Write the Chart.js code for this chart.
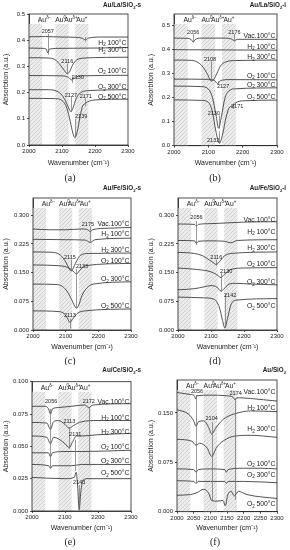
<!DOCTYPE html>
<html>
<head>
<meta charset="utf-8">
<script src="https://cdn.jsdelivr.net/npm/chart.js@4.4.1/dist/chart.umd.min.js"></script>
<style>
  html, body { margin: 0; padding: 0; background: #fff; }
  #fig { position: relative; width: 290px; height: 550px; overflow: hidden; }
  #fig canvas { position: absolute; }
</style>
</head>
<body>
<div id="fig"></div>
<script>
// ---- axes ----
const xTicks = [2000, 2100, 2200, 2300];
const xTicksF = [2000, 2050, 2100, 2150, 2200, 2250, 2300];
const yTicksAB = [0, 0.1, 0.2, 0.3, 0.4, 0.5];
const yLabelsAB = ['0.0', '0.1', '0.2', '0.3', '0.4', '0.5'];
const yTicksCD = [0, 0.075, 0.15, 0.225, 0.3];
const yLabelsCD = ['0.000', '0.075', '0.150', '0.225', '0.300'];
const yTicksE = [0, 0.025, 0.05, 0.075, 0.1];
const yLabelsE = ['0.000', '0.025', '0.050', '0.075', '0.100'];
const yTicksF = [0, 0.075, 0.15];
const yLabelsF = ['0.000', '0.075', '0.150'];

// hatched regions and their labels (wavenumber)
const bands = [[2000, 2040], [2080, 2120], [2140, 2180]];
const auLabels = ['Au^{δ−}', 'Au^{0}', 'Au^{δ+}', 'Au^{+}'];
const auPos = [2047, 2096, 2127, 2160];

// ---- (a) Au/La/SiO2-s : [wavenumber, absorbance] ----
const aTop    = [[2000,.413],[2050,.414],[2100,.412],[2140,.411],[2160,.408],[2171,.401],[2180,.408],[2220,.412],[2300,.412]];
const aH2_100 = [[2000,.370],[2040,.369],[2052,.366],[2057,.352],[2062,.366],[2100,.369],[2200,.370],[2300,.372]];
const aH2_300 = [[2000,.333],[2060,.332],[2080,.325],[2095,.305],[2108,.283],[2116,.272],[2123,.280],[2132,.305],[2145,.325],[2170,.332],[2300,.335]];
const aO2_100 = [[2000,.265],[2100,.264],[2120,.258],[2130,.248],[2140,.258],[2160,.264],[2300,.266]];
const aO2_300 = [[2000,.211],[2060,.211],[2085,.205],[2100,.190],[2112,.165],[2120,.142],[2127,.127],[2133,.140],[2142,.175],[2155,.198],[2175,.207],[2300,.211]];
const aO2_500 = [[2000,.178],[2080,.177],[2100,.170],[2115,.140],[2125,.090],[2133,.045],[2139,.028],[2146,.050],[2155,.110],[2163,.150],[2171,.158],[2178,.165],[2200,.172],[2300,.175]];

// ---- (b) Au/La/SiO2-i ----
const bVac    = [[2000,.446],[2040,.445],[2050,.440],[2056,.430],[2062,.440],[2080,.446],[2150,.446],[2168,.442],[2176,.435],[2184,.441],[2300,.441]];
const bH2_100 = [[2000,.398],[2150,.397],[2300,.396]];
const bH2_300 = [[2000,.355],[2050,.354],[2070,.345],[2085,.325],[2098,.295],[2108,.268],[2116,.275],[2125,.300],[2135,.330],[2150,.347],[2180,.353],[2300,.355]];
const bO2_100 = [[2000,.276],[2100,.275],[2118,.270],[2127,.258],[2136,.270],[2160,.274],[2300,.273]];
const bO2_300 = [[2000,.247],[2080,.245],[2100,.235],[2112,.200],[2122,.130],[2130,.072],[2138,.120],[2148,.195],[2160,.228],[2180,.236],[2300,.240]];
const bO2_500 = [[2000,.190],[2080,.188],[2100,.180],[2112,.140],[2122,.060],[2132,.010],[2142,.050],[2152,.120],[2162,.160],[2171,.165],[2180,.178],[2200,.186],[2300,.189]];

// ---- (c) Au/Fe/SiO2-s ----
const cVac    = [[2000,.264],[2050,.262],[2100,.262],[2150,.264],[2168,.262],[2175,.257],[2182,.262],[2230,.266],[2300,.268]];
const cH2_100 = [[2000,.237],[2100,.236],[2160,.235],[2175,.229],[2190,.236],[2300,.240]];
const cH2_300 = [[2000,.204],[2060,.203],[2080,.198],[2095,.185],[2108,.165],[2115,.155],[2122,.160],[2132,.178],[2145,.195],[2170,.200],[2300,.201]];
const cO2_100 = [[2000,.170],[2080,.168],[2110,.162],[2125,.152],[2133,.146],[2142,.155],[2160,.168],[2300,.174]];
const cO2_300 = [[2000,.120],[2070,.119],[2090,.114],[2105,.100],[2118,.080],[2128,.062],[2133,.057],[2140,.065],[2150,.090],[2165,.110],[2185,.120],[2300,.126]];
const cO2_500 = [[2000,.050],[2080,.048],[2095,.043],[2105,.031],[2113,.020],[2121,.028],[2135,.043],[2160,.050],[2300,.055]];

// ---- (d) Au/Fe/SiO2-i ----
const dVac    = [[2000,.277],[2050,.276],[2056,.272],[2062,.276],[2100,.278],[2150,.280],[2200,.282],[2300,.283]];
const dH2_100 = [[2000,.234],[2050,.233],[2056,.226],[2062,.232],[2100,.233],[2140,.232],[2160,.228],[2180,.234],[2300,.236]];
const dH2_300 = [[2000,.203],[2050,.200],[2075,.194],[2095,.183],[2110,.174],[2116,.171],[2125,.178],[2140,.193],[2160,.200],[2300,.204]];
const dO2_100 = [[2000,.162],[2060,.158],[2100,.152],[2120,.143],[2130,.137],[2140,.145],[2160,.158],[2200,.162],[2300,.163]];
const dO2_300 = [[2000,.105],[2050,.108],[2080,.113],[2100,.116],[2118,.112],[2130,.102],[2140,.108],[2155,.120],[2175,.122],[2220,.120],[2300,.118]];
const dO2_500 = [[2000,.086],[2080,.084],[2110,.080],[2125,.060],[2135,.025],[2142,.005],[2150,.030],[2160,.065],[2175,.078],[2300,.082]];

// ---- (e) Au/Ce/SiO2-s ----
const eVac    = [[2000,.081],[2040,.081],[2050,.079],[2056,.075],[2062,.079],[2080,.080],[2120,.081],[2160,.082],[2172,.080],[2185,.082],[2300,.083]];
const eH2_100 = [[2000,.0685],[2045,.068],[2056,.063],[2065,.069],[2080,.070],[2100,.067],[2113,.064],[2125,.066],[2150,.069],[2200,.070],[2300,.070]];
const eH2_300 = [[2000,.058],[2045,.057],[2056,.052],[2065,.057],[2085,.055],[2100,.052],[2113,.049],[2122,.053],[2135,.058],[2150,.058],[2200,.059],[2300,.060]];
const eO2_100 = [[2000,.045],[2050,.045],[2056,.042],[2062,.045],[2100,.046],[2150,.046],[2300,.047]];
const eO2_300 = [[2000,.036],[2050,.035],[2056,.033],[2062,.035],[2120,.035],[2150,.036],[2300,.036]];
const eO2_500 = [[2000,.026],[2100,.025],[2128,.026],[2134,.030],[2138,.020],[2143,.001],[2148,.015],[2155,.024],[2170,.025],[2300,.025]];

// ---- (f) Au/SiO2 ----
const fVac    = [[2000,.181],[2040,.178],[2052,.176],[2056,.171],[2060,.176],[2100,.177],[2150,.176],[2168,.174],[2174,.170],[2180,.173],[2220,.172],[2260,.170],[2300,.168]];
const fH2_100 = [[2000,.155],[2035,.148],[2050,.138],[2057,.130],[2065,.137],[2080,.138],[2095,.128],[2104,.118],[2115,.126],[2130,.136],[2150,.144],[2175,.149],[2220,.153],[2300,.152]];
const fH2_300 = [[2000,.110],[2045,.107],[2057,.101],[2068,.104],[2090,.097],[2104,.084],[2118,.097],[2140,.108],[2175,.115],[2220,.116],[2300,.113]];
const fO2_100 = [[2000,.065],[2050,.064],[2057,.060],[2064,.064],[2100,.065],[2143,.064],[2148,.060],[2153,.064],[2200,.066],[2250,.066],[2300,.065]];
const fO2_300 = [[2000,.047],[2050,.046],[2057,.043],[2064,.046],[2100,.046],[2143,.046],[2148,.043],[2153,.046],[2200,.046],[2300,.044]];
const fO2_500 = [[2000,.025],[2040,.026],[2060,.029],[2080,.034],[2095,.028],[2104,.017],[2120,.016],[2138,.017],[2145,.009],[2152,.025],[2162,.031],[2172,.024],[2184,.031],[2210,.026],[2300,.020]];

// treatment names and where their text sits (absorbance)
const names6 = ['Vac.100°C', 'H_{2} 100°C', 'H_{2} 300°C', 'O_{2} 100°C', 'O_{2} 300°C', 'O_{2} 500°C'];
const namesA = names6.slice(1);
const nameYA = [.390, .361, .283, .220, .183];
const nameYB = [.455, .410, .366, .288, .252, .200];
const nameYC = [.276, .250, .210, .180, .132, .063];
const nameYD = [.288, .257, .213, .172, .124, .062];
const nameYE = [.0845, .072, .061, .0496, .0385, .029];
const nameYF = [.181, .158, .125, .073, .056, .011];

// peak markers: [wavenumber, line top, line bottom, text, text x, text y]
const markA = [[2057,.425,.345,'2057',2057,.432],[2171,.412,.395],[2116,.310,.270,'2116',2116,.318],
  [2130,.262,.237,'2130',2148,.257],[2127,.183,.127,'2127',2127,.190],[2139,.100,.028,'2139',2158,.107],[2171,.178,.148,'2171',2172,.186]];
const markB = [[2056,.462,.428,'2056',2056,.470],[2176,.462,.432,'2176',2176,.470],[2108,.350,.268,'2108',2105,.358],
  [2127,.268,.252,'2127',2143,.247],[2130,.125,.072,'2130',2116,.134],[2171,.175,.152,'2171',2184,.163],[2132,.060,.010,'2132',2114,.022]];
const markC = [[2175,.270,.228,'2175',2168,.277],[2115,.183,.154,'2115',2113,.190],[2133,.160,.057,'2133',2150,.166],[2113,.030,.004,'2113',2113,.037]];
const markD = [[2056,.285,.222,'2056',2056,.293],[2116,.183,.168,'2116',2116,.190],[2130,.150,.100,'2130',2146,.154],[2142,.095,.005,'2142',2158,.090]];
const markE = [[2056,.079,.033,'2056',2058,.085],[2172,.080,.035,'2172',2172,.085],[2113,.065,.048,'2113',2113,.069],
  [2131,.055,.031,'2131',2131,.059],[2143,.020,.001,'2143',2143,.022]];
const markF = [[2056,.177,.043,'2056',2060,.183],[2104,.136,.016,'2104',2104,.142],[2174,.172,.018,'2174',2176,.180]];

const FONT = "'Liberation Sans', Arial, sans-serif";
const INK = '#222';

const panels = [
  { id: 'a', title: 'Au/La/SiO_{2}-s', left: 0, top: 0, h: 183, axisBottom: 170, letterY: 178, area: [29, 14, 128, 145],
    yMax: 0.5, yTicks: yTicksAB, yLabels: yLabelsAB, xTicks,
    series: [aTop, aH2_100, aH2_300, aO2_100, aO2_300, aO2_500], names: namesA, nameY: nameYA, marks: markA },
  { id: 'b', title: 'Au/La/SiO_{2}-i', left: 145, top: 0, h: 183, axisBottom: 170, letterY: 178, area: [29, 14, 132, 145.7],
    yMax: 0.546, yTicks: yTicksAB, yLabels: yLabelsAB, xTicks,
    series: [bVac, bH2_100, bH2_300, bO2_100, bO2_300, bO2_500], names: names6, nameY: nameYB, marks: markB },
  { id: 'c', title: 'Au/Fe/SiO_{2}-s', left: 0, top: 183, h: 182, axisBottom: 171, letterY: 178, area: [33, 15, 131, 147],
    yMax: 0.345, yTicks: yTicksCD, yLabels: yLabelsCD, xTicks,
    series: [cVac, cH2_100, cH2_300, cO2_100, cO2_300, cO2_500], names: names6, nameY: nameYC, marks: markC },
  { id: 'd', title: 'Au/Fe/SiO_{2}-i', left: 145, top: 183, h: 182, axisBottom: 171, letterY: 178, area: [33, 15, 132, 147],
    yMax: 0.345, yTicks: yTicksCD, yLabels: yLabelsCD, xTicks,
    series: [dVac, dH2_100, dH2_300, dO2_100, dO2_300, dO2_500], names: names6, nameY: nameYD, marks: markD },
  { id: 'e', title: 'Au/Ce/SiO_{2}-s', left: 0, top: 365, h: 185, axisBottom: 170, letterY: 177, area: [32, 16.7, 131, 146],
    yMax: 0.1, yTicks: yTicksE, yLabels: yLabelsE, xTicks,
    series: [eVac, eH2_100, eH2_300, eO2_100, eO2_300, eO2_500], names: names6, nameY: nameYE, marks: markE },
  { id: 'f', title: 'Au/SiO_{2}', left: 145, top: 365, h: 185, axisBottom: 170, letterY: 177, area: [32, 15, 132, 146.7],
    yMax: 0.2, yTicks: yTicksF, yLabels: yLabelsF, xTicks: xTicksF,
    series: [fVac, fH2_100, fH2_300, fO2_100, fO2_300, fO2_500], names: names6, nameY: nameYF, marks: markF },
];

const hatch = (() => {
  const c = document.createElement('canvas');
  c.width = 4; c.height = 4;
  const g = c.getContext('2d');
  g.fillStyle = '#ececec';
  g.fillRect(0, 0, 4, 4);
  g.strokeStyle = '#c6c6c6';
  g.lineWidth = 0.7;
  g.beginPath();
  g.moveTo(0, 4); g.lineTo(4, 0);
  g.moveTo(-1, 1); g.lineTo(1, -1);
  g.moveTo(3, 5); g.lineTo(5, 3);
  g.stroke();
  return g.createPattern(c, 'repeat');
})();

// text with _{sub} and ^{sup}
function rich(ctx, str, x, y, size, align, bold) {
  const parts = [];
  str.replace(/([_^])\{([^}]*)\}|[^_^]+/g, (m, k, t) => { parts.push(k ? [t, k] : [m, '']); return m; });
  const font = s => `${bold ? 'bold ' : ''}${s}px ${FONT}`;
  let total = 0;
  parts.forEach(pt => {
    ctx.font = font(pt[1] ? size * 0.65 : size);
    pt.push(ctx.measureText(pt[0]).width);
    total += pt[2];
  });
  let cx = align === 'right' ? x - total : align === 'center' ? x - total / 2 : x;
  ctx.textAlign = 'left';
  ctx.textBaseline = 'middle';
  parts.forEach(([t, k, w]) => {
    ctx.font = font(k ? size * 0.65 : size);
    ctx.fillText(t, cx, y + (k === '_' ? size * 0.3 : k === '^' ? -size * 0.35 : 0));
    cx += w;
  });
}

function deco(p) {
  return {
    id: 'deco',
    beforeDatasetsDraw(chart) {
      const { ctx, chartArea: a, scales: { x } } = chart;
      ctx.save();
      ctx.fillStyle = hatch;
      bands.forEach(([lo, hi]) => {
        const x1 = x.getPixelForValue(lo), x2 = x.getPixelForValue(hi);
        ctx.fillRect(x1, a.top + 10, x2 - x1, a.bottom - a.top - 10);
      });
      ctx.restore();
    },
    afterDatasetsDraw(chart) {
      const { ctx, chartArea: a, scales: { x, y } } = chart;
      ctx.save();
      ctx.strokeStyle = '#6e6e6e';
      ctx.lineWidth = 0.7;
      p.marks.forEach(([w, y1, y2]) => {
        const px = Math.round(x.getPixelForValue(w)) + 0.5;
        ctx.beginPath();
        ctx.moveTo(px, y.getPixelForValue(y1));
        ctx.lineTo(px, y.getPixelForValue(y2));
        ctx.stroke();
      });
      ctx.fillStyle = INK;
      p.marks.forEach(([, , , txt, lx, ly]) => {
        if (!txt) return;
        ctx.font = `5.5px ${FONT}`;
        ctx.textAlign = 'center';
        ctx.textBaseline = 'middle';
        ctx.fillText(txt, x.getPixelForValue(lx), y.getPixelForValue(ly));
      });
      p.names.forEach((n, i) => rich(ctx, n, a.right - 1.5, y.getPixelForValue(p.nameY[i]), 6.8, 'right'));
      auLabels.forEach((t, i) => rich(ctx, t, x.getPixelForValue(auPos[i]), a.top + 6, 6.8, 'center'));
      ctx.strokeStyle = INK;
      ctx.lineWidth = 0.8;
      ctx.strokeRect(a.left, a.top, a.right - a.left, a.bottom - a.top);
      rich(ctx, p.title, 141, 5.5, 6.3, 'right', true);
      ctx.fillStyle = INK;
      ctx.font = `10px 'Liberation Serif', serif`;
      ctx.textAlign = 'center';
      ctx.textBaseline = 'middle';
      ctx.fillText(`(${p.id})`, 70, p.letterY);
      ctx.restore();
    }
  };
}

const fig = document.getElementById('fig');

panels.forEach(p => {
  const cv = document.createElement('canvas');
  cv.width = 145;
  cv.height = p.h;
  cv.style.left = p.left + 'px';
  cv.style.top = p.top + 'px';
  fig.appendChild(cv);
  const [L, T, R, B] = p.area;
  const tickFont = { family: FONT, size: 6 };
  const grid = { drawOnChartArea: false, tickLength: 2, color: INK, lineWidth: 0.8 };
  const border = { color: INK, width: 0.8 };
  new Chart(cv, {
    type: 'line',
    data: {
      datasets: p.series.map(s => ({
        data: s.map(([x, y]) => ({ x, y })),
        borderColor: '#3f3f3f',
        borderWidth: 0.9,
        pointRadius: 0,
        cubicInterpolationMode: 'monotone',
        fill: false
      }))
    },
    options: {
      responsive: false,
      animation: false,
      events: [],
      layout: { padding: { left: 0, top: T, right: 145 - R, bottom: p.h - p.axisBottom } },
      plugins: { legend: { display: false }, tooltip: { enabled: false } },
      scales: {
        x: {
          type: 'linear', min: 2000, max: 2300,
          afterFit: s => { s.height = p.axisBottom - B; },
          afterBuildTicks: s => { s.ticks = p.xTicks.map(v => ({ value: v })); },
          ticks: { autoSkip: false, maxRotation: 0, padding: 1, color: INK, font: tickFont, callback: v => String(v) },
          grid, border,
          title: { display: true, text: 'Wavenumber (cm⁻¹)', color: INK, font: { family: FONT, size: 7 }, padding: { top: 0, bottom: 3 } }
        },
        y: {
          type: 'linear', min: 0, max: p.yMax,
          afterFit: s => { s.width = L; },
          afterBuildTicks: s => { s.ticks = p.yTicks.map(v => ({ value: v })); },
          ticks: { padding: 2, color: INK, font: tickFont, callback: (v, i) => p.yLabels[i] },
          grid, border,
          title: { display: true, text: 'Absorbtion (a.u.)', color: INK, font: { family: FONT, size: 7 }, padding: { top: 2, bottom: 0 } }
        }
      }
    },
    plugins: [deco(p)]
  });
});
</script>
</body>
</html>
